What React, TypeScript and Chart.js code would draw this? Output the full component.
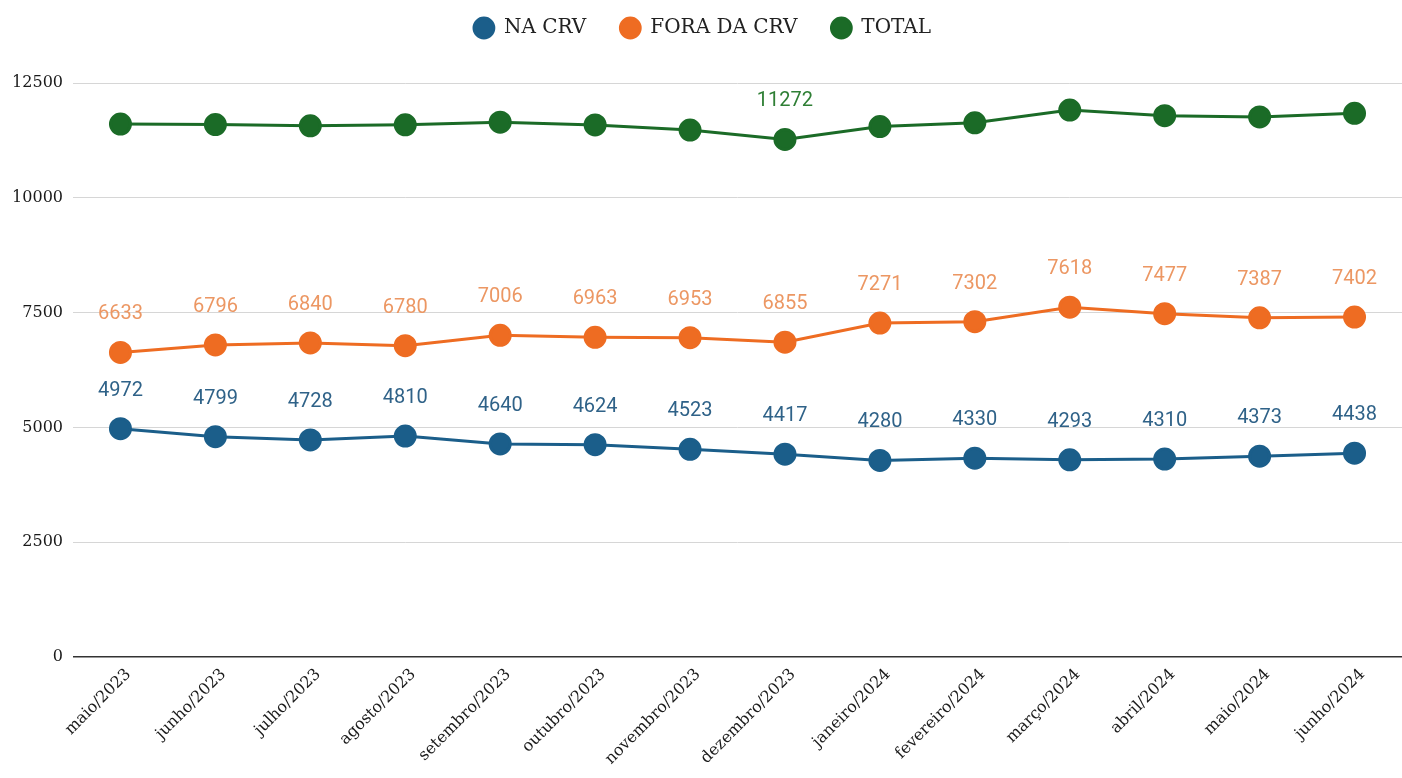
import React, { useEffect, useRef } from "react";
import { Chart, registerables } from "chart.js";

Chart.register(...registerables);

const categories = [
  "maio/2023", "junho/2023", "julho/2023", "agosto/2023", "setembro/2023",
  "outubro/2023", "novembro/2023", "dezembro/2023", "janeiro/2024",
  "fevereiro/2024", "março/2024", "abril/2024", "maio/2024", "junho/2024",
];
const naCrv = [4972, 4799, 4728, 4810, 4640, 4624, 4523, 4417, 4280, 4330, 4293, 4310, 4373, 4438];
const foraCrv = [6633, 6796, 6840, 6780, 7006, 6963, 6953, 6855, 7271, 7302, 7618, 7477, 7387, 7402];
const total = [11605, 11595, 11568, 11590, 11646, 11587, 11476, 11272, 11551, 11632, 11911, 11787, 11760, 11840];
const totalLabelIndexes = [7];
const yTicks = [0, 2500, 5000, 7500, 10000, 12500];

const BLUE = "#1b5e8a";
const ORANGE = "#ee6c22";
const GREEN = "#1b6b27";

const labelColors = ["#2f6288", "#ec9763", "#2f7f35"];

const dataLabelPlugin = {
  id: "dataLabels",
  afterDatasetsDraw(chart: any) {
    const ctx = chart.ctx;
    ctx.save();
    ctx.font = "20px Roboto";
    ctx.textAlign = "center";
    ctx.textBaseline = "middle";
    chart.data.datasets.forEach((ds: any, di: number) => {
      const meta = chart.getDatasetMeta(di);
      meta.data.forEach((pt: any, i: number) => {
        if (di === 2 && !totalLabelIndexes.includes(i)) return;
        ctx.fillStyle = labelColors[di];
        ctx.fillText(String(ds.data[i]), pt.x, pt.y - 38);
      });
    });
    ctx.restore();
  },
};

const legendSpacer = {
  id: "legendSpacer",
  afterInit(chart: any) {
    const lg = chart.legend;
    if (!lg) return;
    const orig = lg.fit;
    lg.fit = function (this: any) {
      orig.call(this);
      this.height += 35;
    };
  },
};

export default function App() {
  const ref = useRef<HTMLCanvasElement | null>(null);
  useEffect(() => {
    document.body.style.margin = "0";
    const mk = (label: string, data: number[], color: string) => ({
      label,
      data,
      borderColor: color,
      backgroundColor: color,
      pointBackgroundColor: color,
      pointBorderColor: color,
      pointRadius: 10,
      pointHoverRadius: 10,
      borderWidth: 3,
      tension: 0,
    });
    const chart = new Chart(ref.current as HTMLCanvasElement, {
      type: "line",
      data: {
        labels: categories,
        datasets: [
          mk("NA CRV", naCrv, BLUE),
          mk("FORA DA CRV", foraCrv, ORANGE),
          mk("TOTAL", total, GREEN),
        ],
      },
      options: {
        animation: false,
        responsive: false,
        layout: { autoPadding: false, padding: { top: -16, right: -3, left: 0, bottom: 0 } },
        plugins: {
          legend: {
            position: "top",
            labels: {
              usePointStyle: true,
              pointStyle: "circle",
              boxWidth: 20,
              boxHeight: 14,
              padding: 34,
              color: "#222",
              font: { family: "DejaVu Serif", size: 20 },
            },
          },
          tooltip: { enabled: false },
        },
        scales: {
          x: {
            offset: true,
            grid: { display: false, drawTicks: false },
            border: { display: false },
            ticks: {
              color: "#1a1a1a",
              font: { family: "DejaVu Serif", size: 16 },
              minRotation: 45,
              maxRotation: 45,
              padding: 8,
              labelOffset: 8,
            },
            afterFit: (s: any) => {
              s.height = 121;
              s.paddingRight = 0;
            },
          },
          y: {
            min: 0,
            max: 12500,
            afterBuildTicks: (s: any) => { s.ticks = yTicks.map((v) => ({ value: v })); },
            grid: {
              color: (c: any) => (c.tick && c.tick.value === 0 ? "#333" : "#d6d6d6"),
              lineWidth: (c: any) => (c.tick && c.tick.value === 0 ? 1.5 : 1),
              drawTicks: false,
            },
            border: { display: false },
            ticks: {
              color: "#1a1a1a",
              font: { family: "DejaVu Serif", size: 16 },
              padding: 10,
              callback: (v: any) => String(v),
            },
            afterFit: (s: any) => { s.width = 73; },
          },
        },
      },
      plugins: [dataLabelPlugin, legendSpacer],
    });
    return () => chart.destroy();
  }, []);
  return (
    <div style={{ width: 1402, height: 778 }}>
      <canvas ref={ref} width={1402} height={778} style={{ display: "block" }} />
    </div>
  );
}
